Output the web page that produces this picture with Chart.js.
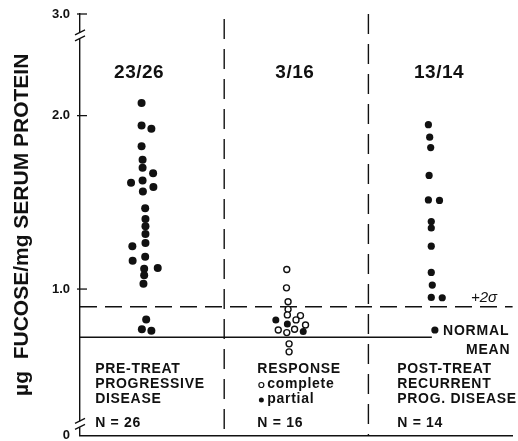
<!DOCTYPE html>
<html>
<head>
<meta charset="utf-8">
<script src="https://cdn.jsdelivr.net/npm/chart.js@4.4.1/dist/chart.umd.min.js"></script>
<style>
  body { margin: 0; background: #fff; }
  #wrap { width: 518px; height: 441px; }
</style>
</head>
<body>
<div id="wrap"><canvas id="fucose" width="518" height="441"></canvas></div>
<script>
// values (µg fucose / mg serum protein)
// x = position inside the group column (0-1 pre, 1-2 response, 2-3 post)
const preX = [0.427, 0.427, 0.495, 0.427, 0.434, 0.434, 0.507, 0.354, 0.434, 0.509, 0.436, 0.452, 0.454,
              0.454, 0.454, 0.454, 0.363, 0.452, 0.365, 0.539, 0.445, 0.445, 0.440, 0.459, 0.429, 0.495];
const preY = [2.073, 1.943, 1.924, 1.824, 1.745, 1.699, 1.668, 1.613, 1.626, 1.588, 1.563, 1.466, 1.404,
              1.362, 1.318, 1.266, 1.247, 1.186, 1.163, 1.122, 1.117, 1.079, 1.030, 0.824, 0.768, 0.759];

const completeX = [1.434, 1.432, 1.443, 1.443, 1.438, 1.529, 1.498, 1.564, 1.375, 1.488, 1.434, 1.450, 1.450];
const completeY = [1.113, 1.007, 0.927, 0.883, 0.851, 0.847, 0.822, 0.793, 0.764, 0.768, 0.749, 0.684, 0.638];
const partialX = [1.358, 1.438, 1.548];
const partialY = [0.822, 0.799, 0.755];

const postX = [2.416, 2.425, 2.432, 2.421, 2.416, 2.493, 2.436, 2.436, 2.436, 2.436, 2.443, 2.436, 2.512, 2.461];
const postY = [1.948, 1.876, 1.816, 1.655, 1.514, 1.511, 1.389, 1.352, 1.247, 1.096, 1.023, 0.952, 0.950, 0.764];

const sigmaLine = 0.898;
const meanLine = 0.722;

// broken axis: the ends stand for 0 and 3.0
const tickValues = [0.155, 1, 2, 2.586];
const tickLabels = ['0', '1.0', '2.0', '3.0'];
const breakValues = [0.22, 2.46];

const groupCenters = [0.41, 1.49, 2.49];
const countLabels = ['23/26', '3/16', '13/14'];
const groupText = [
  ['PRE-TREAT', 'PROGRESSIVE', 'DISEASE'],
  ['RESPONSE', 'complete', 'partial'],
  ['POST-TREAT', 'RECURRENT', 'PROG. DISEASE']
];
const nLabels = ['N = 26', 'N = 16', 'N = 14'];
const groupTextLeft = [0.105, 1.23, 2.2];

const ink = '#111';
const FONT = '"Liberation Sans", Arial, Helvetica, sans-serif';

function pts(xs, ys) {
  return xs.map((x, i) => ({ x: x, y: ys[i] }));
}

const overlay = {
  id: 'overlay',
  beforeDatasetsDraw(chart) {
    const c = chart.ctx, xs = chart.scales.x, ys = chart.scales.y, a = chart.chartArea;
    c.save();
    c.strokeStyle = ink;

    // group dividers
    c.lineWidth = 1.4;
    c.setLineDash([20, 10]);
    [1, 2].forEach(function (g, i) {
      const px = xs.getPixelForValue(g);
      c.beginPath();
      c.moveTo(px, i === 0 ? a.top + 5 : a.top);
      c.lineTo(px, a.bottom);
      c.stroke();
    });

    // +2 sigma
    c.setLineDash([17, 8]);
    c.lineWidth = 1.3;
    let py = ys.getPixelForValue(sigmaLine);
    c.beginPath(); c.moveTo(a.left, py); c.lineTo(a.right, py); c.stroke();

    // normal mean
    c.setLineDash([]);
    c.lineWidth = 1.3;
    py = ys.getPixelForValue(meanLine);
    c.beginPath(); c.moveTo(a.left, py); c.lineTo(xs.getPixelForValue(2.44), py); c.stroke();
    c.restore();
  },
  afterDraw(chart) {
    const c = chart.ctx, xs = chart.scales.x, ys = chart.scales.y, a = chart.chartArea;
    c.save();
    c.strokeStyle = ink;
    c.fillStyle = ink;

    // inward ticks
    c.lineWidth = 1.3;
    tickValues.slice(1).forEach(function (v) {
      const py = ys.getPixelForValue(v);
      c.beginPath(); c.moveTo(a.left - 3, py); c.lineTo(a.left + 7, py); c.stroke();
    });

    // axis breaks
    breakValues.forEach(function (v) {
      const py = ys.getPixelForValue(v);
      c.fillStyle = '#fff';
      c.fillRect(a.left - 2, py - 3, 4, 6);
      c.fillStyle = ink;
      c.lineWidth = 1.3;
      c.beginPath();
      c.moveTo(a.left - 5, py - 1); c.lineTo(a.left + 5, py - 6);
      c.moveTo(a.left - 5, py + 5); c.lineTo(a.left + 5, py);
      c.stroke();
    });

    // counts above the groups
    c.textAlign = 'center';
    c.textBaseline = 'middle';
    c.font = 'bold 19px ' + FONT;
    c.letterSpacing = '0.5px';
    countLabels.forEach(function (t, i) {
      c.fillText(t, xs.getPixelForValue(groupCenters[i]), 73);
    });

    // group descriptions
    c.textAlign = 'left';
    c.font = 'bold 14px ' + FONT;
    c.letterSpacing = '0.7px';
    const rows = [369, 384, 399];
    groupText.forEach(function (lines, g) {
      const x0 = xs.getPixelForValue(groupTextLeft[g]);
      lines.forEach(function (t, r) {
        let tx = x0;
        if (g === 1 && r > 0) {
          tx = x0 + 10;
          c.beginPath();
          c.arc(x0 + 4, rows[r] + 1, 2.5, 0, Math.PI * 2);
          if (r === 1) { c.lineWidth = 1.2; c.stroke(); } else { c.fill(); }
        }
        c.fillText(t, tx, rows[r]);
      });
      c.fillText(nLabels[g], x0, 423);
    });

    // reference line labels
    c.font = 'italic 15px ' + FONT;
    c.letterSpacing = '0px';
    c.fillText('+2\u03c3', 471, ys.getPixelForValue(sigmaLine) - 9);
    c.font = 'bold 14px ' + FONT;
    c.letterSpacing = '0.8px';
    c.fillText('NORMAL', 443, 331);
    c.fillText('MEAN', 466, 350);
    c.restore();
  }
};

new Chart(document.getElementById('fucose'), {
  type: 'scatter',
  data: {
    datasets: [
      { data: pts(preX, preY), pointRadius: 4, backgroundColor: ink, borderColor: ink, borderWidth: 0 },
      { data: pts(completeX, completeY), pointRadius: 3, backgroundColor: '#fff', borderColor: ink, borderWidth: 1.4 },
      { data: pts(partialX, partialY), pointRadius: 3.5, backgroundColor: ink, borderColor: ink, borderWidth: 0 },
      { data: pts(postX, postY), pointRadius: 3.6, backgroundColor: ink, borderColor: ink, borderWidth: 0 }
    ]
  },
  options: {
    responsive: false,
    animation: false,
    events: [],
    layout: { padding: { top: 14, right: 0, bottom: 0, left: 0 } },
    plugins: { legend: { display: false }, tooltip: { enabled: false } },
    scales: {
      x: {
        type: 'linear', min: 0, max: 3,
        ticks: { display: false },
        grid: { display: false, drawTicks: false },
        border: { display: true, color: ink, width: 1.4 },
        afterFit: function (s) {
          s.height = 5;
          s.paddingLeft = 0; s.paddingRight = 0; s.paddingTop = 0; s.paddingBottom = 0;
        }
      },
      y: {
        type: 'linear',
        min: tickValues[0], max: tickValues[tickValues.length - 1],
        afterBuildTicks: function (s) { s.ticks = tickValues.map(v => ({ value: v })); },
        ticks: {
          autoSkip: false,
          padding: 10,
          color: ink,
          font: { family: FONT, size: 13, weight: 'bold' },
          callback: function (v, i) { return tickLabels[i]; }
        },
        grid: { display: false, drawTicks: false },
        border: { display: true, color: ink, width: 1.4 },
        title: {
          display: true,
          text: '\u00b5g  FUCOSE/mg SERUM PROTEIN',
          color: ink,
          font: { family: FONT, size: 21, weight: 'bold' },
          padding: { top: 10, bottom: 0 }
        },
        afterFit: function (s) {
          s.width = 80;
          s.paddingTop = 0; s.paddingBottom = 0;
        }
      }
    }
  },
  plugins: [overlay]
});
</script>
</body>
</html>
